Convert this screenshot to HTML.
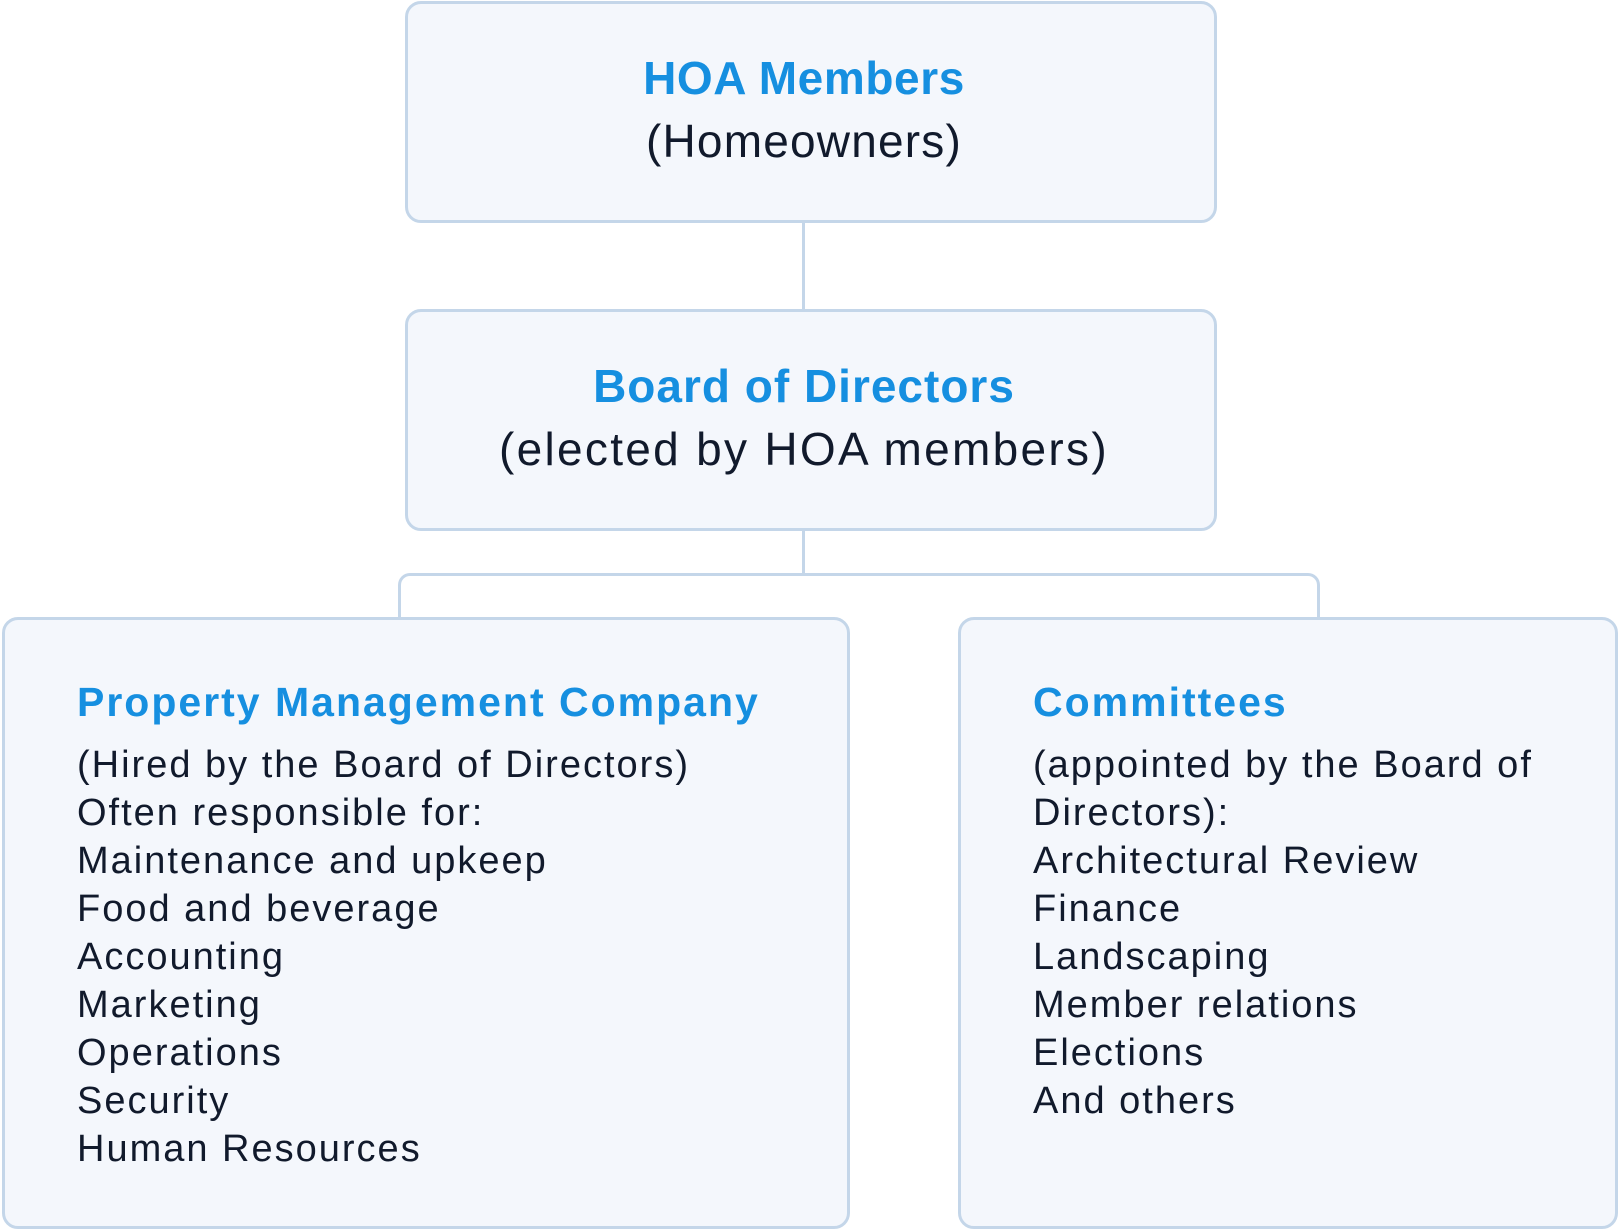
<!DOCTYPE html>
<html><head><meta charset="utf-8"><style>
body{margin:0;width:1620px;height:1230px;background:#fff;position:relative;overflow:hidden;font-family:"Liberation Sans",sans-serif;color:#111a2c}
.b{position:absolute;box-sizing:border-box;border:3px solid #c4d6e9;background:#f4f7fc;border-radius:16px}
.c{text-align:center}
.c>div{box-sizing:border-box;padding-right:14px}
.t{color:#168fe0;font-weight:bold}
.l{position:absolute;background:#c4d6e9}
.txt{position:absolute;left:72px;font-size:38px;line-height:48px;letter-spacing:2px;white-space:nowrap}
</style></head><body>
<div class="l" style="left:802px;top:220px;width:3px;height:92px"></div>
<div class="l" style="left:802px;top:528px;width:3px;height:46px"></div>
<div style="position:absolute;left:398px;top:573px;width:922px;height:50px;border:3px solid #c4d6e9;border-bottom:none;border-radius:12px 12px 0 0;box-sizing:border-box"></div>
<div class="b c" style="left:405px;top:1px;width:812px;height:222px">
<div class="t" style="position:absolute;top:47px;width:100%;font-size:46px;letter-spacing:0.6px">HOA Members</div>
<div style="position:absolute;top:110px;width:100%;font-size:46px;letter-spacing:1.2px">(Homeowners)</div></div>
<div class="b c" style="left:405px;top:309px;width:812px;height:222px">
<div class="t" style="position:absolute;top:47px;width:100%;font-size:46px;letter-spacing:1px">Board of Directors</div>
<div style="position:absolute;top:110px;width:100%;font-size:46px;letter-spacing:2.3px">(elected by HOA members)</div></div>
<div class="b" style="left:2px;top:617px;width:848px;height:612px">
<div class="t txt" style="top:58px;font-size:41px">Property Management Company</div>
<div class="txt" style="top:121px">(Hired by the Board of Directors)<br>Often responsible for:<br>Maintenance and upkeep<br>Food and beverage<br>Accounting<br>Marketing<br>Operations<br>Security<br>Human Resources</div></div>
<div class="b" style="left:958px;top:617px;width:660px;height:612px">
<div class="t txt" style="top:58px;font-size:41px">Committees</div>
<div class="txt" style="top:121px">(appointed by the Board of<br>Directors):<br>Architectural Review<br>Finance<br>Landscaping<br>Member relations<br>Elections<br>And others</div></div>
</body></html>
